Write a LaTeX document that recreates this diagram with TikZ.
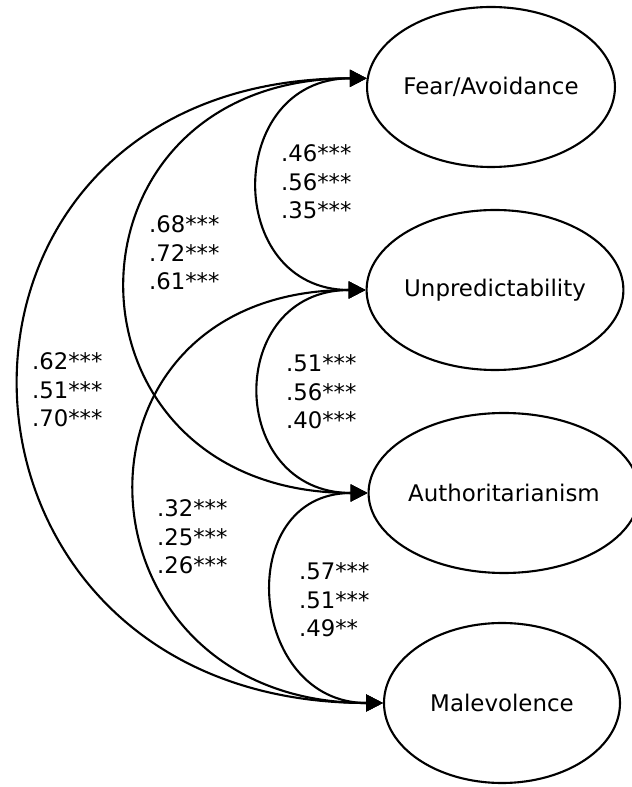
\documentclass[tikz,border=0pt]{standalone}
\usepackage{fontspec}
\setmainfont{DejaVu Sans}
\usetikzlibrary{arrows.meta,shapes.geometric}

\begin{document}
\begin{tikzpicture}[line width=1.5pt,factor/.style={ellipse,draw,minimum width=5.9cm,minimum height=4cm,inner sep=0pt,font=\fontsize{16.3}{20}\selectfont},coef/.style={anchor=west,align=left,inner sep=0pt,font=\fontsize{16.2}{20.3}\selectfont},corr/.style={{Triangle[length=12pt,width=12pt]}-{Triangle[length=12pt,width=12pt]},out=180,in=180}]
  \useasboundingbox (0,0) rectangle (15.8,19.675);
  \node[factor] (fear) at (12.275,17.5) {Fear/Avoidance};
  \node[factor] (unpred) at (12.375,12.425) {Unpredictability};
  \node[factor] (author) at (12.6,7.35) {Authoritarianism};
  \node[factor] (malev) at (12.55,2.1) {Malevolence};
  \draw[corr,looseness=1.72] (fear.176) to (unpred.west);
  \draw[corr,looseness=1.78] (unpred.west) to (author.west);
  \draw[corr,looseness=1.65] (author.west) to (malev.west);
  \draw[corr,looseness=1.97] (fear.176) to (author.west);
  \draw[corr,looseness=1.96] (unpred.west) to (malev.west);
  \draw[corr,looseness=1.93] (fear.176) to (malev.west);
  \node[coef] (c12) at (7.0,15.125) {.46***\\.56***\\.35***};
  \node[coef] (c23) at (7.125,9.875) {.51***\\.56***\\.40***};
  \node[coef] (c34) at (7.45,4.675) {.57***\\.51***\\.49**};
  \node[coef] (c13) at (3.7,13.35) {.68***\\.72***\\.61***};
  \node[coef] (c24) at (3.9,6.25) {.32***\\.25***\\.26***};
  \node[coef] (c14) at (0.775,9.925) {.62***\\.51***\\.70***};
\end{tikzpicture}
\end{document}
